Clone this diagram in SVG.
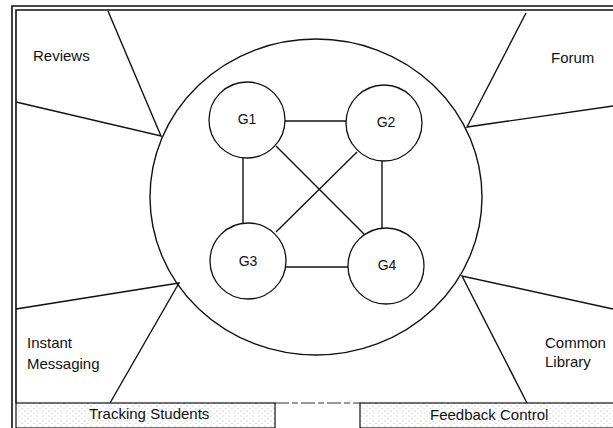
<svg xmlns="http://www.w3.org/2000/svg" width="613" height="428" viewBox="0 0 613 428">
<defs>
<style>
text{font-family:"Liberation Sans",Arial,sans-serif;font-size:15px;fill:#111}
.g text{font-size:14px;text-anchor:middle}
.ln{stroke:#111;stroke-width:1.4;fill:none}
.nd{stroke:#111;stroke-width:1.3;fill:#fff}
.fr{stroke:#111;stroke-width:1.6;fill:none}
.bx{stroke:#111;stroke-width:1.2;fill:url(#dots)}
</style>
<pattern id="dots" width="6" height="5" patternUnits="userSpaceOnUse">
<rect width="6" height="5" fill="#fff"/>
<circle cx="1" cy="1" r="0.55" fill="#aaa"/>
<circle cx="4" cy="3.5" r="0.55" fill="#bbb"/>
</pattern>
</defs>
<rect width="613" height="428" fill="#fff"/>
<g id="frame">
<path class="fr" d="M12,428 V6 H613"/>
<path class="fr" d="M16,403 V10 H613"/>
<path d="M275,403 H360" stroke="#333" stroke-width="1" stroke-dasharray="14,3,6,3"/>
</g>
<g id="connectors">
<path class="ln" d="M108,11 L161,136 L16,102"/>
<path class="ln" d="M526,13 L467,127 L613,106"/>
<path class="ln" d="M16,309 L179,283 L110,403"/>
<path class="ln" d="M613,309 L462,276 L527,403"/>
<line class="ln" x1="285" y1="121" x2="346" y2="121"/>
<line class="ln" x1="243" y1="157" x2="243" y2="223"/>
<line class="ln" x1="382" y1="161" x2="382" y2="228"/>
<line class="ln" x1="286" y1="267" x2="348" y2="267"/>
<line class="ln" x1="276" y1="146" x2="364" y2="234"/>
<line class="ln" x1="357" y1="152" x2="276" y2="232"/>
</g>
<g id="hub"><ellipse cx="316" cy="197" rx="166" ry="158" class="ln"/></g>
<g id="G1" class="g"><circle class="nd" cx="247" cy="120" r="38"/><text x="247" y="124">G1</text></g>
<g id="G2" class="g"><circle class="nd" cx="384" cy="123" r="38"/><text x="386" y="127">G2</text></g>
<g id="G3" class="g"><circle class="nd" cx="248" cy="261" r="38"/><text x="248" y="266">G3</text></g>
<g id="G4" class="g"><circle class="nd" cx="386" cy="266" r="38"/><text x="387" y="270">G4</text></g>
<g id="reviews"><text x="33" y="61">Reviews</text></g>
<g id="forum"><text x="551" y="63">Forum</text></g>
<g id="im"><text x="27" y="348">Instant</text><text x="27" y="369">Messaging</text></g>
<g id="library"><text x="545" y="348">Common</text><text x="545" y="367">Library</text></g>
<g id="tracking"><rect class="bx" x="16" y="403" width="259" height="25"/><text x="89" y="419">Tracking Students</text></g>
<g id="feedback"><rect class="bx" x="360" y="403" width="260" height="25"/><text x="430" y="420">Feedback Control</text></g>
</svg>
